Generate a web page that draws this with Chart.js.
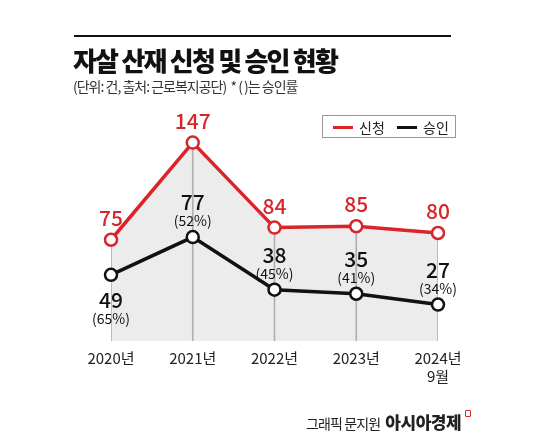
<!DOCTYPE html>
<html><head><meta charset="utf-8">
<script src="https://cdn.jsdelivr.net/npm/chart.js@4"></script>
<style>
html,body{margin:0;padding:0;background:#fff;}
#wrap{position:relative;width:550px;height:440px;overflow:hidden;font-family:"Noto Sans CJK KR","Noto Sans",sans-serif;}
#c{position:absolute;left:0;top:0;}
.rule{position:absolute;left:74px;top:35px;width:377px;height:2px;background:#111;}
.title{position:absolute;left:73px;top:41px;font-size:26px;font-weight:900;color:#111;letter-spacing:-1.8px;}
.sub{position:absolute;left:73px;top:76px;font-size:14px;color:#333;letter-spacing:-1px;}
.legend{position:absolute;left:322px;top:115px;width:134px;height:23px;border:1px solid #999;box-sizing:border-box;font-size:14px;color:#222;}
.legend span{position:absolute;top:1px;}
.dash{position:absolute;top:10px;width:20px;height:3px;}
.foot{position:absolute;left:306px;top:409px;font-size:14px;color:#222;letter-spacing:-0.9px;}
.foot b{font-size:17px;font-weight:900;letter-spacing:-0.5px;margin-left:3px;}
.icon{position:absolute;left:465px;top:410px;width:4px;height:5px;border:1.5px solid #d9252a;border-radius:1px;}
</style></head>
<body><div id="wrap">
<canvas id="c" width="550" height="440"></canvas>
<div class="rule"></div>
<div class="title">자살 산재 신청 및 승인 현황</div>
<div class="sub">(단위: 건, 출처: 근로복지공단) &nbsp;* ( )는 승인률</div>
<div class="legend">
  <div class="dash" style="left:10px;background:#d9252a"></div><span style="left:36px">신청</span>
  <div class="dash" style="left:74px;background:#111"></div><span style="left:100px">승인</span>
</div>
<div class="foot">그래픽 문지원 <b>아시아경제</b></div>
<div class="icon"></div>
</div>
<script>
const categories = [['2020년'], ['2021년'], ['2022년'], ['2023년'], ['2024년', '9월']];
const applied = [75, 147, 84, 85, 80];
const approved = [49, 77, 38, 35, 27];
const approvalRate = ['(65%)', '(52%)', '(45%)', '(41%)', '(34%)'];

const RED = '#d9252a';
const BLACK = '#111111';

const labelPlugin = {
  id: 'pointLabels',
  afterDatasetsDraw(chart) {
    const ctx = chart.ctx;
    ctx.save();
    ctx.textAlign = 'center';
    ctx.textBaseline = 'middle';
    const redMeta = chart.getDatasetMeta(1);
    redMeta.data.forEach((pt, i) => {
      ctx.fillStyle = RED;
      ctx.font = '500 21px "Noto Sans CJK KR", sans-serif';
      ctx.fillText(String(applied[i]), pt.x, pt.y - 22);
    });
    const blkMeta = chart.getDatasetMeta(2);
    blkMeta.data.forEach((pt, i) => {
      ctx.fillStyle = '#111';
      let ny, py;
      if (i === 0) { ny = pt.y + 25; py = pt.y + 44; }
      else { ny = pt.y - 35; py = pt.y - 16; }
      ctx.font = '500 21px "Noto Sans CJK KR", sans-serif';
      ctx.fillText(String(approved[i]), pt.x, ny);
      ctx.font = '14px "Noto Sans CJK KR", sans-serif';
      ctx.fillText(approvalRate[i], pt.x, py);
    });
    ctx.restore();
  }
};

new Chart(document.getElementById('c'), {
  data: {
    labels: categories,
    datasets: [
      { type: 'bar', data: applied, backgroundColor: '#b0b0b0', barThickness: 1, order: 3 },
      { type: 'line', data: applied, borderColor: RED, borderWidth: 3.5, fill: 'origin',
        backgroundColor: '#ececec', pointRadius: 6, pointBorderWidth: 2.5,
        pointBackgroundColor: '#fff', pointBorderColor: RED, tension: 0, order: 2 },
      { type: 'line', data: approved, borderColor: BLACK, borderWidth: 3.5, fill: false,
        pointRadius: 6, pointBorderWidth: 2.5,
        pointBackgroundColor: '#fff', pointBorderColor: BLACK, tension: 0, order: 1 }
    ]
  },
  options: {
    responsive: false,
    animation: false,
    devicePixelRatio: 1,
    layout: { padding: { left: 111, right: 112, top: 125, bottom: 0 } },
    plugins: { legend: { display: false }, tooltip: { enabled: false }, filler: { drawTime: 'beforeDatasetsDraw' } },
    scales: {
      x: {
        offset: false,
        grid: { display: false },
        border: { display: false },
        ticks: { color: '#222', font: { size: 15, family: '"Noto Sans CJK KR", sans-serif' }, padding: 0, maxRotation: 0, autoSkip: false },
        afterFit(scale) { scale.height = 99; }
      },
      y: { display: false, min: 0, max: 160 }
    }
  },
  plugins: [labelPlugin]
});
</script>
</body></html>
